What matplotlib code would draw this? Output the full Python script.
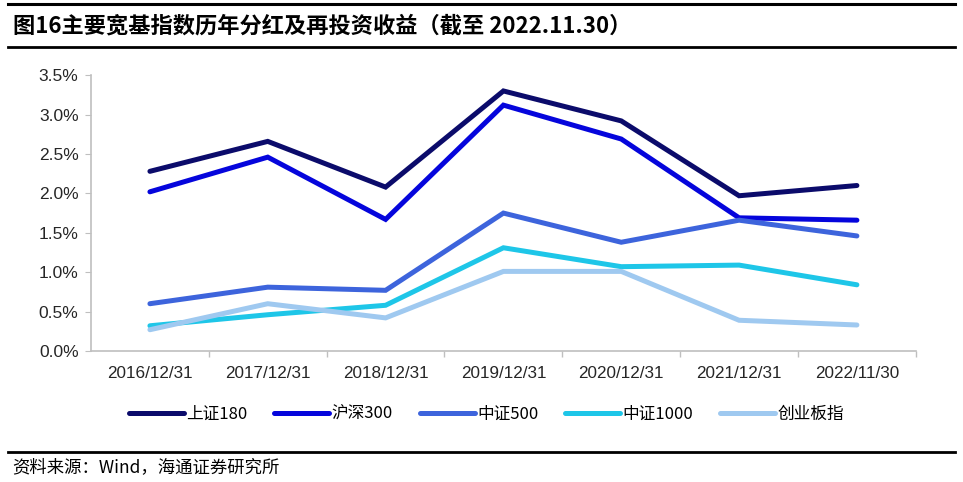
import matplotlib
matplotlib.use("Agg")
from matplotlib import pyplot as plt
from matplotlib.ticker import FuncFormatter, FixedLocator

plt.rcParams['font.family'] = ['Liberation Sans', 'Noto Sans CJK SC', 'DejaVu Sans']

# 数据 (%)
dates = ["2016/12/31", "2017/12/31", "2018/12/31", "2019/12/31",
         "2020/12/31", "2021/12/31", "2022/11/30"]
sz180 = [2.28, 2.66, 2.08, 3.30, 2.92, 1.97, 2.10]
hs300 = [2.02, 2.46, 1.67, 3.12, 2.69, 1.69, 1.66]
zz500 = [0.60, 0.81, 0.77, 1.75, 1.38, 1.66, 1.46]
zz1000 = [0.32, 0.46, 0.58, 1.31, 1.07, 1.09, 0.84]
cyb = [0.27, 0.60, 0.42, 1.01, 1.01, 0.39, 0.33]

names = ["上证180", "沪深300", "中证500", "中证1000", "创业板指"]
series = [sz180, hs300, zz500, zz1000, cyb]
colors = ["#0b0b6b", "#0505dc", "#3d64dc", "#1ec6e8", "#9fc9f0"]

fig = plt.figure(figsize=(9.63, 4.82), dpi=100)
ax = fig.add_axes([0.0945, 0.2718, 0.8565, 0.5722])

x = list(range(len(dates)))
for s, n, c in zip(series, names, colors):
    ax.plot(x, s, color=c, lw=3.6, label=n, solid_capstyle='round', solid_joinstyle='miter')

ax.set_xlim(-0.5, len(dates) - 0.5)
ax.set_ylim(0, 3.5)
ax.set_yticks([0, 0.5, 1.0, 1.5, 2.0, 2.5, 3.0, 3.5])
ax.yaxis.set_major_formatter(FuncFormatter(lambda v, p: "%.1f%%" % v))
ax.set_xticks(x)
ax.set_xticklabels(dates)
ax.xaxis.set_minor_locator(FixedLocator([i + 0.5 for i in range(len(dates))]))
ax.tick_params(axis='x', which='major', length=0, pad=11, labelsize=12.3, colors='#262626')
ax.tick_params(axis='x', which='minor', length=4, color='#bfbfbf', width=1)
ax.tick_params(axis='y', length=4, color='#bfbfbf', labelsize=12.5, colors='#262626', pad=5)
for sp in ['top', 'right']:
    ax.spines[sp].set_visible(False)
for sp in ['left', 'bottom']:
    ax.spines[sp].set_color('#bfbfbf')
    ax.spines[sp].set_linewidth(1.2)

fig.legend(loc='center', bbox_to_anchor=(0.505, 0.141), ncol=5, frameon=False,
           handlelength=3.3, handletextpad=0.15, columnspacing=1.6,
           prop={'family': ['Noto Sans CJK SC'], 'size': 12})

# 标题和框线
fig.add_artist(plt.Line2D([0.008, 0.992], [0.991, 0.991], color='black', lw=2.2))
fig.add_artist(plt.Line2D([0.008, 0.992], [0.903, 0.903], color='black', lw=2.0))
fig.add_artist(plt.Line2D([0.008, 0.992], [0.062, 0.062], color='black', lw=2.0))
fig.text(0.013, 0.946, "图16主要宽基指数历年分红及再投资收益（截至 2022.11.30）",
         fontsize=16, fontweight='bold', va='center', ha='left',
         family=['Noto Sans CJK SC', 'DejaVu Sans'])
fig.text(0.013, 0.031, "资料来源：Wind，海通证券研究所", fontsize=12.5, va='center', ha='left',
         family=['Noto Sans CJK SC', 'DejaVu Sans'])

fig.savefig("out.png", dpi=100)
